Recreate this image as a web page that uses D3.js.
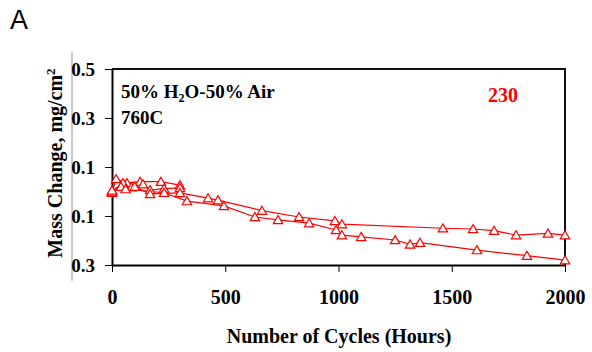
<html>
<head>
	<script src="https://d3js.org/d3.v7.min.js"></script>
</head>
<body style="margin:0; padding:0; background:#fff;">
	<script>
	// hours on test for each specimen
	var hoursA = [0, 18, 66, 124, 216, 300];
	var massA  = [-0.005, 0.051, 0.035, 0.040, 0.040, 0.026];

	var hoursB = [0, 49, 87, 137, 168, 230, 300];
	var massB  = [0.002, 0.035, 0.018, 0.030, 0.006, 0.012, 0.015];

	var hoursC = [0, 40, 100, 168, 300, 424, 468, 662, 826, 984, 1015, 1461, 1594, 1687, 1784, 1925, 2000];
	var massC  = [0.0, 0.02, 0.02, -0.010, -0.006, -0.027, -0.035, -0.078, -0.104, -0.120, -0.133, -0.150, -0.153, -0.160, -0.178, -0.171, -0.178];

	var hoursD = [0, 60, 230, 331, 494, 631, 733, 870, 989, 1015, 1100, 1250, 1316, 1360, 1611, 1832, 2000];
	var massD  = [0.005, 0.010, -0.005, -0.039, -0.059, -0.104, -0.116, -0.129, -0.157, -0.178, -0.185, -0.198, -0.216, -0.209, -0.239, -0.262, -0.280];

	var xTicks = [0, 500, 1000, 1500, 2000];
	var yTicks = [0.5, 0.3, 0.1, -0.1, -0.3];
	var yTickLabels = ["0.5", "0.3", "0.1", "0.1", "0.3"];

	var width = 592, height = 352;
	// plot box (px)
	var pL = 112, pR = 565, pT = 69, pB = 265;
	var serif = "'Liberation Serif', 'Times New Roman', serif";

	var svg = d3.select("body").append("svg")
		.attr("width", width)
		.attr("height", height);

	var x = d3.scaleLinear().domain([0, 2000]).range([pL, pR]);
	var y = d3.scaleLinear().domain([-0.3, 0.5]).range([pB, pT]);

	// stray grey rule left of the tick labels
	svg.append("line")
		.attr("x1", 72).attr("x2", 72).attr("y1", 52).attr("y2", 281)
		.style("stroke", "#999").style("stroke-width", 1);

	// frame (top / right)
	svg.append("path")
		.attr("d", "M" + pL + "," + pT + "H" + pR + "V" + pB)
		.style("fill", "none").style("stroke", "#111").style("stroke-width", 2);

	var xAxis = svg.append("g")
		.attr("transform", "translate(0," + pB + ")")
		.call(d3.axisBottom(x).tickValues(xTicks).tickSize(7).tickSizeOuter(0).tickPadding(18)
			.tickFormat(d3.format("d")));
	var yAxis = svg.append("g")
		.attr("transform", "translate(" + pL + ",0)")
		.call(d3.axisLeft(y).tickValues(yTicks).tickSize(7).tickSizeOuter(0).tickPadding(10)
			.tickFormat(function (d, i) { return yTickLabels[i]; }));

	[xAxis, yAxis].forEach(function (g) {
		g.select(".domain").style("stroke", "#000").style("stroke-width", 2);
		g.selectAll(".tick line").style("stroke", "#000").style("stroke-width", 1);
		g.selectAll("text")
			.style("font-family", serif).style("font-weight", "bold")
			.style("font-size", "20px").style("fill", "#000");
	});
	yAxis.selectAll("text").style("font-size", "19px");

	// series
	var series = [[hoursA, massA], [hoursB, massB], [hoursC, massC], [hoursD, massD]];
	var line = d3.line()
		.x(function (d) { return x(d[0]); })
		.y(function (d) { return y(d[1]); });
	var tri = d3.symbol().type(d3.symbolTriangle).size(38);

	series.forEach(function (s) {
		var pts = s[0].map(function (h, i) { return [h, s[1][i]]; });
		svg.append("path").datum(pts)
			.attr("d", line)
			.style("fill", "none").style("stroke", "#f00").style("stroke-width", 1.2);
	});
	series.forEach(function (s) {
		var pts = s[0].map(function (h, i) { return [h, s[1][i]]; });
		svg.selectAll(null).data(pts).enter()
			.append("path")
				.attr("d", tri)
				.attr("transform", function (d) { return "translate(" + x(d[0]) + "," + (y(d[1]) + 1) + ")"; })
				.style("fill", "#fff").style("stroke", "#f00").style("stroke-width", 1.2);
	});

	// labels
	svg.append("text")
		.attr("x", 10).attr("y", 29)
		.style("font-family", "'Liberation Sans', Arial, sans-serif").style("font-size", "27px")
		.text("A");

	svg.append("text")
		.attr("x", 339).attr("y", 343)
		.attr("text-anchor", "middle")
		.style("font-family", serif).style("font-weight", "bold").style("font-size", "20px")
		.text("Number of Cycles (Hours)");

	var yl = svg.append("text")
		.attr("transform", "translate(62,163) rotate(-90)")
		.attr("text-anchor", "middle")
		.style("font-family", serif).style("font-weight", "bold").style("font-size", "20px");
	yl.append("tspan").text("Mass Change, mg/cm");
	yl.append("tspan").attr("dy", -7).style("font-size", "13px").text("2");

	var cond = svg.append("text")
		.attr("x", 121).attr("y", 98)
		.style("font-family", serif).style("font-weight", "bold").style("font-size", "19px");
	cond.append("tspan").text("50% H");
	cond.append("tspan").attr("dy", 4).style("font-size", "12px").text("2");
	cond.append("tspan").attr("dy", -4).text("O-50% Air");

	svg.append("text")
		.attr("x", 121).attr("y", 124)
		.style("font-family", serif).style("font-weight", "bold").style("font-size", "19px")
		.text("760C");

	svg.append("text")
		.attr("x", 488).attr("y", 102)
		.style("font-family", serif).style("font-weight", "bold").style("font-size", "20px")
		.style("fill", "#f00")
		.text("230");
	</script>
</body>
</html>
